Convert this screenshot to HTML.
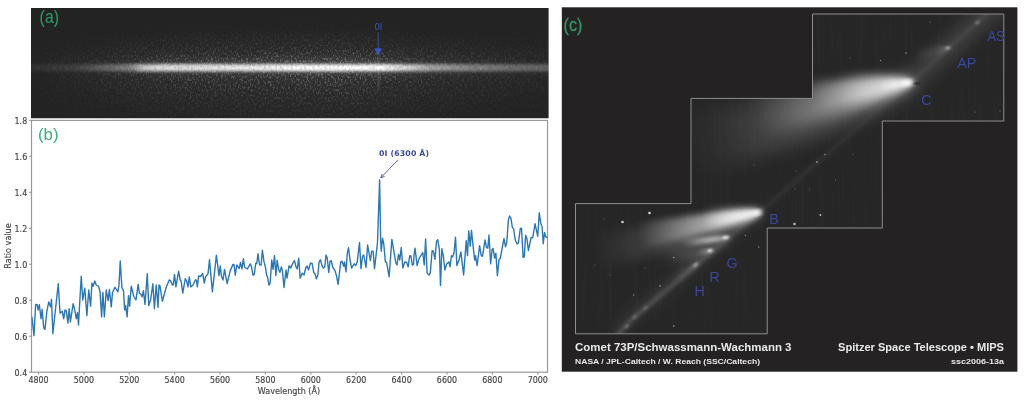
<!DOCTYPE html>
<html lang="en">
<head>
<meta charset="utf-8">
<title>Comet 73P/Schwassmann-Wachmann 3</title>
<style>
html,body{margin:0;padding:0;background:#fff}
body{width:1024px;height:400px;overflow:hidden}
svg{display:block}
.dj{font-family:"DejaVu Sans","Liberation Sans",sans-serif}
.lb{font-family:"Liberation Sans",sans-serif}
</style>
</head>
<body>
<svg width="1024" height="400" viewBox="0 0 1024 400">
<defs>
  <filter id="b05" x="-50%" y="-50%" width="200%" height="200%"><feGaussianBlur stdDeviation="0.7"/></filter>
  <filter id="b1" x="-50%" y="-50%" width="200%" height="200%"><feGaussianBlur stdDeviation="1"/></filter>
  <filter id="b2" x="-50%" y="-50%" width="200%" height="200%"><feGaussianBlur stdDeviation="2"/></filter>
  <filter id="b3" x="-50%" y="-50%" width="200%" height="200%"><feGaussianBlur stdDeviation="3.2"/></filter>
  <filter id="b6" x="-50%" y="-50%" width="200%" height="200%"><feGaussianBlur stdDeviation="6"/></filter>
  <filter id="b10" x="-50%" y="-50%" width="200%" height="200%"><feGaussianBlur stdDeviation="10"/></filter>
  <filter id="bandblur" x="-5%" y="-300%" width="110%" height="700%"><feGaussianBlur stdDeviation="2.5 1.35"/></filter>
  <filter id="halo" x="-5%" y="-300%" width="110%" height="700%"><feGaussianBlur stdDeviation="6 5"/></filter>
  <filter id="noiseA" x="0" y="0" width="100%" height="100%" color-interpolation-filters="sRGB">
    <feTurbulence type="fractalNoise" baseFrequency="0.6 0.38" numOctaves="2" seed="7" result="n"/>
    <feColorMatrix in="n" type="matrix" values="0 0 0 0 1  0 0 0 0 1  0 0 0 0 1  5 0 0 0 -2.5"/>
    <feGaussianBlur stdDeviation="0.75"/>
  </filter>
  <filter id="noiseD" x="0" y="0" width="100%" height="100%" color-interpolation-filters="sRGB">
    <feTurbulence type="fractalNoise" baseFrequency="0.45 0.3" numOctaves="2" seed="11" result="n"/>
    <feColorMatrix in="n" type="matrix" values="0 0 0 0 0.1  0 0 0 0 0.1  0 0 0 0 0.1  4 0 0 0 -1.8"/>
    <feGaussianBlur stdDeviation="0.6"/>
  </filter>
  <filter id="noiseC" x="0" y="0" width="100%" height="100%" color-interpolation-filters="sRGB">
    <feTurbulence type="fractalNoise" baseFrequency="0.5 0.012" numOctaves="2" seed="3" result="n"/>
    <feColorMatrix in="n" type="matrix" values="0 0 0 0 1  0 0 0 0 1  0 0 0 0 1  1.4 0 0 0 -0.55"/>
  </filter>
  <linearGradient id="maskAg" x1="0" y1="0" x2="0" y2="1">
    <stop offset="0" stop-color="#fff" stop-opacity="0.02"/>
    <stop offset="0.2" stop-color="#fff" stop-opacity="0.08"/>
    <stop offset="0.35" stop-color="#fff" stop-opacity="0.4"/>
    <stop offset="0.46" stop-color="#fff" stop-opacity="0.9"/>
    <stop offset="0.54" stop-color="#fff" stop-opacity="1"/>
    <stop offset="0.64" stop-color="#fff" stop-opacity="0.85"/>
    <stop offset="0.8" stop-color="#fff" stop-opacity="0.45"/>
    <stop offset="1" stop-color="#fff" stop-opacity="0.15"/>
  </linearGradient>
  <linearGradient id="maskAh" x1="0" y1="0" x2="1" y2="0">
    <stop offset="0" stop-color="#111"/>
    <stop offset="0.12" stop-color="#444"/>
    <stop offset="0.3" stop-color="#bbb"/>
    <stop offset="0.6" stop-color="#fff"/>
    <stop offset="0.75" stop-color="#888"/>
    <stop offset="1" stop-color="#333"/>
  </linearGradient>
  <mask id="maskAv" maskUnits="userSpaceOnUse" x="31" y="8" width="517" height="110">
    <rect x="31" y="8" width="517" height="110" fill="url(#maskAg)"/>
  </mask>
  <mask id="maskA" maskUnits="userSpaceOnUse" x="31" y="8" width="517" height="110">
    <rect x="31" y="8" width="517" height="110" fill="url(#maskAh)"/>
  </mask>
  <linearGradient id="bandg" gradientUnits="userSpaceOnUse" x1="31" y1="0" x2="548" y2="0">
    <stop offset="0" stop-color="#fff" stop-opacity="0.05"/>
    <stop offset="0.083" stop-color="#fff" stop-opacity="0.1"/>
    <stop offset="0.14" stop-color="#fff" stop-opacity="0.24"/>
    <stop offset="0.195" stop-color="#fff" stop-opacity="0.38"/>
    <stop offset="0.21" stop-color="#fff" stop-opacity="0.66"/>
    <stop offset="0.25" stop-color="#fff" stop-opacity="0.82"/>
    <stop offset="0.42" stop-color="#fff" stop-opacity="0.88"/>
    <stop offset="0.52" stop-color="#fff" stop-opacity="1"/>
    <stop offset="0.675" stop-color="#fff" stop-opacity="1"/>
    <stop offset="0.72" stop-color="#fff" stop-opacity="0.8"/>
    <stop offset="0.77" stop-color="#fff" stop-opacity="0.55"/>
    <stop offset="0.83" stop-color="#fff" stop-opacity="0.42"/>
    <stop offset="0.907" stop-color="#fff" stop-opacity="0.32"/>
    <stop offset="1" stop-color="#fff" stop-opacity="0.26"/>
  </linearGradient>
  <linearGradient id="trailg" gradientUnits="userSpaceOnUse" x1="612" y1="341" x2="1000" y2="2">
    <stop offset="0" stop-color="#fff" stop-opacity="0.26"/>
    <stop offset="0.25" stop-color="#fff" stop-opacity="0.18"/>
    <stop offset="0.4" stop-color="#fff" stop-opacity="0.09"/>
    <stop offset="0.72" stop-color="#fff" stop-opacity="0.05"/>
    <stop offset="0.8" stop-color="#fff" stop-opacity="0.1"/>
    <stop offset="1" stop-color="#fff" stop-opacity="0.12"/>
  </linearGradient>
  <linearGradient id="gC0" gradientUnits="userSpaceOnUse" x1="2" y1="0" x2="-238" y2="0"><stop offset="0" stop-color="#fff" stop-opacity="0.9"/><stop offset="0.25" stop-color="#fff" stop-opacity="0.8"/><stop offset="0.5" stop-color="#fff" stop-opacity="0.55"/><stop offset="0.7" stop-color="#fff" stop-opacity="0.3"/><stop offset="0.85" stop-color="#fff" stop-opacity="0.12"/><stop offset="1" stop-color="#fff" stop-opacity="0"/></linearGradient>
  <linearGradient id="gC1" gradientUnits="userSpaceOnUse" x1="2" y1="0" x2="-163" y2="0"><stop offset="0" stop-color="#fff" stop-opacity="1"/><stop offset="0.3" stop-color="#fff" stop-opacity="0.85"/><stop offset="0.55" stop-color="#fff" stop-opacity="0.5"/><stop offset="0.8" stop-color="#fff" stop-opacity="0.2"/><stop offset="1" stop-color="#fff" stop-opacity="0"/></linearGradient>
  <linearGradient id="gC2" gradientUnits="userSpaceOnUse" x1="2" y1="0" x2="-98" y2="0"><stop offset="0" stop-color="#fff" stop-opacity="1"/><stop offset="0.3" stop-color="#fff" stop-opacity="0.85"/><stop offset="0.6" stop-color="#fff" stop-opacity="0.5"/><stop offset="1" stop-color="#fff" stop-opacity="0"/></linearGradient>
  <linearGradient id="gC3" gradientUnits="userSpaceOnUse" x1="2" y1="0" x2="-73" y2="0"><stop offset="0" stop-color="#fff" stop-opacity="1"/><stop offset="0.5" stop-color="#fff" stop-opacity="0.7"/><stop offset="1" stop-color="#fff" stop-opacity="0"/></linearGradient>
  <linearGradient id="gC4" gradientUnits="userSpaceOnUse" x1="2" y1="0" x2="-33" y2="0"><stop offset="0" stop-color="#fff" stop-opacity="1"/><stop offset="0.5" stop-color="#fff" stop-opacity="0.7"/><stop offset="1" stop-color="#fff" stop-opacity="0"/></linearGradient>
  <linearGradient id="gB0" gradientUnits="userSpaceOnUse" x1="2" y1="0" x2="-173" y2="0"><stop offset="0" stop-color="#fff" stop-opacity="1"/><stop offset="0.3" stop-color="#fff" stop-opacity="0.8"/><stop offset="0.6" stop-color="#fff" stop-opacity="0.45"/><stop offset="1" stop-color="#fff" stop-opacity="0"/></linearGradient>
  <linearGradient id="gB1" gradientUnits="userSpaceOnUse" x1="2" y1="0" x2="-123" y2="0"><stop offset="0" stop-color="#fff" stop-opacity="1"/><stop offset="0.3" stop-color="#fff" stop-opacity="0.85"/><stop offset="0.6" stop-color="#fff" stop-opacity="0.5"/><stop offset="1" stop-color="#fff" stop-opacity="0"/></linearGradient>
  <linearGradient id="gB2" gradientUnits="userSpaceOnUse" x1="2" y1="0" x2="-58" y2="0"><stop offset="0" stop-color="#fff" stop-opacity="1"/><stop offset="0.5" stop-color="#fff" stop-opacity="0.7"/><stop offset="1" stop-color="#fff" stop-opacity="0"/></linearGradient>
  <linearGradient id="gB3" gradientUnits="userSpaceOnUse" x1="2" y1="0" x2="-58" y2="0"><stop offset="0" stop-color="#fff" stop-opacity="1"/><stop offset="0.4" stop-color="#fff" stop-opacity="0.7"/><stop offset="1" stop-color="#fff" stop-opacity="0"/></linearGradient>
  <linearGradient id="gG0" gradientUnits="userSpaceOnUse" x1="2" y1="0" x2="-78" y2="0"><stop offset="0" stop-color="#fff" stop-opacity="0.9"/><stop offset="0.4" stop-color="#fff" stop-opacity="0.5"/><stop offset="1" stop-color="#fff" stop-opacity="0"/></linearGradient>
  <linearGradient id="gG1" gradientUnits="userSpaceOnUse" x1="2" y1="0" x2="-46" y2="0"><stop offset="0" stop-color="#fff" stop-opacity="1"/><stop offset="0.4" stop-color="#fff" stop-opacity="0.8"/><stop offset="1" stop-color="#fff" stop-opacity="0"/></linearGradient>
  <linearGradient id="gR0" gradientUnits="userSpaceOnUse" x1="2" y1="0" x2="-48" y2="0"><stop offset="0" stop-color="#fff" stop-opacity="0.9"/><stop offset="0.4" stop-color="#fff" stop-opacity="0.5"/><stop offset="1" stop-color="#fff" stop-opacity="0"/></linearGradient>
  <linearGradient id="gR1" gradientUnits="userSpaceOnUse" x1="2" y1="0" x2="-14" y2="0"><stop offset="0" stop-color="#fff" stop-opacity="1"/><stop offset="0.4" stop-color="#fff" stop-opacity="0.8"/><stop offset="1" stop-color="#fff" stop-opacity="0"/></linearGradient>
  <linearGradient id="gH0" gradientUnits="userSpaceOnUse" x1="2" y1="0" x2="-34" y2="0"><stop offset="0" stop-color="#fff" stop-opacity="0.9"/><stop offset="0.4" stop-color="#fff" stop-opacity="0.5"/><stop offset="1" stop-color="#fff" stop-opacity="0"/></linearGradient>
  <linearGradient id="gH1" gradientUnits="userSpaceOnUse" x1="2" y1="0" x2="-10" y2="0"><stop offset="0" stop-color="#fff" stop-opacity="1"/><stop offset="0.4" stop-color="#fff" stop-opacity="0.8"/><stop offset="1" stop-color="#fff" stop-opacity="0"/></linearGradient>
  <linearGradient id="gAP0" gradientUnits="userSpaceOnUse" x1="2" y1="0" x2="-38" y2="0"><stop offset="0" stop-color="#fff" stop-opacity="0.9"/><stop offset="0.4" stop-color="#fff" stop-opacity="0.5"/><stop offset="1" stop-color="#fff" stop-opacity="0"/></linearGradient>
  <linearGradient id="gAP1" gradientUnits="userSpaceOnUse" x1="2" y1="0" x2="-12" y2="0"><stop offset="0" stop-color="#fff" stop-opacity="1"/><stop offset="0.4" stop-color="#fff" stop-opacity="0.8"/><stop offset="1" stop-color="#fff" stop-opacity="0"/></linearGradient>
  
  <clipPath id="clipC"><polygon points="812.5,14 1003.8,14 1003.8,121 882.3,121 882.3,228 767.2,228 767.2,333.8 575.5,333.8 575.5,203.6 691,203.6 691,98.4 812.5,98.4"/></clipPath>
  <clipPath id="clipPlot"><rect x="31.5" y="120.4" width="516" height="251.8"/></clipPath>
  <clipPath id="clipA"><rect x="31" y="8" width="517.6" height="110.2"/></clipPath>
</defs>

<rect x="0" y="0" width="1024" height="400" fill="#fff"/>

<!-- panel (a): 2D spectrum -->
<g clip-path="url(#clipA)">
  <rect x="31" y="8" width="518" height="111" fill="#242323"/>
  <g mask="url(#maskA)">
    <rect x="31" y="8" width="517" height="110" fill="url(#maskAg)" opacity="0.07"/>
    <g mask="url(#maskAv)" opacity="0.27"><rect x="31" y="8" width="517" height="110" filter="url(#noiseA)"/></g>
  </g>
  <rect x="20" y="62.5" width="540" height="10" fill="url(#bandg)" opacity="0.16" filter="url(#halo)"/>
  <rect x="20" y="64.2" width="540" height="7" fill="url(#bandg)" filter="url(#bandblur)"/>
  <g opacity="0.13"><rect x="31" y="61" width="518" height="14" filter="url(#noiseD)"/></g>
  <rect x="377.6" y="56" width="1" height="34" fill="#fff" opacity="0.3" filter="url(#b1)"/>
</g>
<text class="lb" x="39.6" y="23.3" font-size="17.5" fill="#2f9a68" textLength="19.4" lengthAdjust="spacingAndGlyphs">(a)</text>
<g fill="#3b55b8" stroke="none">
  <text class="dj" x="378.4" y="29.6" font-size="8.6" text-anchor="middle" fill="#3b55b8">0I</text>
  <rect x="377.7" y="32.5" width="0.9" height="17" opacity="0.9"/>
  <polygon points="374.3,48.2 382,48.2 378.1,56"/>
</g>

<!-- panel (b): ratio plot -->
<g fill="none" stroke="#989898" stroke-width="1.2">
  <rect x="31.5" y="120.4" width="516" height="251.8"/>
  <line x1="38.5" y1="372.2" x2="38.5" y2="374.5"/><line x1="83.89" y1="372.2" x2="83.89" y2="374.5"/><line x1="129.27" y1="372.2" x2="129.27" y2="374.5"/><line x1="174.66" y1="372.2" x2="174.66" y2="374.5"/><line x1="220.04" y1="372.2" x2="220.04" y2="374.5"/><line x1="265.43" y1="372.2" x2="265.43" y2="374.5"/><line x1="310.82" y1="372.2" x2="310.82" y2="374.5"/><line x1="356.2" y1="372.2" x2="356.2" y2="374.5"/><line x1="401.59" y1="372.2" x2="401.59" y2="374.5"/><line x1="446.97" y1="372.2" x2="446.97" y2="374.5"/><line x1="492.36" y1="372.2" x2="492.36" y2="374.5"/><line x1="537.75" y1="372.2" x2="537.75" y2="374.5"/><line x1="29.2" y1="372.2" x2="31.5" y2="372.2"/><line x1="29.2" y1="336.23" x2="31.5" y2="336.23"/><line x1="29.2" y1="300.26" x2="31.5" y2="300.26"/><line x1="29.2" y1="264.29" x2="31.5" y2="264.29"/><line x1="29.2" y1="228.31" x2="31.5" y2="228.31"/><line x1="29.2" y1="192.34" x2="31.5" y2="192.34"/><line x1="29.2" y1="156.37" x2="31.5" y2="156.37"/><line x1="29.2" y1="120.4" x2="31.5" y2="120.4"/>
</g>
<g class="dj" font-size="7.8" fill="#454545" stroke="#454545" stroke-width="0.15" text-anchor="middle" transform="scale(1.02 1.14)"><text x="37.75" y="336.23">4800</text><text x="82.24" y="336.23">5000</text><text x="126.74" y="336.23">5200</text><text x="171.23" y="336.23">5400</text><text x="215.73" y="336.23">5600</text><text x="260.23" y="336.23">5800</text><text x="304.72" y="336.23">6000</text><text x="349.22" y="336.23">6200</text><text x="393.71" y="336.23">6400</text><text x="438.21" y="336.23">6600</text><text x="482.71" y="336.23">6800</text><text x="527.2" y="336.23">7000</text></g>
<g class="dj" font-size="8.1" fill="#454545" stroke="#454545" stroke-width="0.15" text-anchor="middle">
  <text transform="translate(289 393.7) scale(1 1.1)">Wavelength (Å)</text>
  <text transform="translate(11.2 246) rotate(-90) scale(1 1.08)">Ratio value</text>
</g>
<g class="dj" font-size="7.8" fill="#454545" stroke="#454545" stroke-width="0.15" text-anchor="end" transform="scale(1.02 1.14)"><text x="26.67" y="329.91">0.4</text><text x="26.67" y="298.36">0.6</text><text x="26.67" y="266.8">0.8</text><text x="26.67" y="235.25">1.0</text><text x="26.67" y="203.7">1.2</text><text x="26.67" y="172.14">1.4</text><text x="26.67" y="140.59">1.6</text><text x="26.67" y="109.04">1.8</text></g>
<g clip-path="url(#clipPlot)">
  <polyline points="31.88,316.88 34,335.62 35.62,304.38 37.25,304.75 38.12,310 39.38,304.75 41,318.75 42.12,309.38 43.75,328.12 45,329.38 46.88,311.25 48.75,301.88 50.62,306.88 51.5,299.38 52.88,333.75 55,313.75 58.25,283.75 60,313.12 62.25,311.25 63.75,318.75 65,310 66.25,310.62 67.88,323.12 69.12,308.75 70.38,321.88 73.12,303.75 74.75,310 76.25,318.75 77.5,312.5 78.5,325 80,297.5 81.25,276.25 82.75,300 84.75,288.12 86.88,315.62 88.75,290 90.62,306.25 91.88,283.12 93.12,286.25 94.75,281 96.25,285 98.5,286.25 100,291.25 101.62,316.88 102.88,292.5 104.38,316.88 106.25,290 108.12,300.62 109.38,289.38 111.25,306.88 112.5,292.5 115,287.25 117.88,291.88 119,285 120.25,261 121.88,287.5 123.5,290.62 124.62,310 125.62,305.62 127.12,316.88 128.5,295.62 129.62,306.25 131.25,286.25 133.75,296.25 136,300 138.12,284.38 139.38,293.12 140.62,293.75 142.12,296.88 143.38,290.62 145,304.38 147.25,273.75 148.75,305.62 150.62,300 152.88,283.75 154.38,308.75 156.25,285 158,307.5 159,285 159.88,285.62 162.38,301.25 166.12,287.5 169.25,280 170.5,280.62 172.38,285 173.25,284.75 174.5,274.38 175.88,286.88 178.62,271.25 180.25,280 181.12,281 182.75,293.12 185.25,278.75 186.5,280.62 188,286.88 189.25,276.88 190.75,286.88 193,285 195.5,279.75 196.5,280.62 197.38,286.88 198.62,276 200.5,276.5 202.75,273.5 204.25,283.12 205.5,276.88 208,273.75 209.5,259.75 212.38,291.88 216.38,255.25 219,275.62 220.25,266 221.5,276.25 223,280 224.5,269.38 227.12,283.5 230.25,270.62 233,264.38 234,264.38 235.25,275.25 236.75,265 239.25,268.5 240.5,262.5 242,268.75 243.38,258.75 244.62,267.25 247.38,269 250.25,263.75 251.5,266.88 253,275.25 254.25,274.38 255.75,263.12 256.75,263.5 258,253.75 259.5,264.75 261.12,265 262.38,250.25 264,261.88 265.25,266.25 266.75,275.62 267.62,277.25 268.88,285 270.12,283.12 271.75,260 273,269.38 274.5,255.62 275.88,275.62 277.12,260.25 278.62,269.38 279.88,272.25 281.38,266.88 282.38,270.62 284,287.5 286,270 287,278.12 289.12,265.62 290.62,268.12 292.88,263.12 294.5,260.62 296,266.88 297.25,268.75 298.75,258.12 300.12,278.12 302.25,273.12 304.12,275 305.75,267.75 307,266 308.5,270 310.38,263.12 312,263.12 313.75,272.5 315,273.75 316.38,278.75 317.88,275 319.12,261.88 320.38,259.75 322.25,266.25 323.5,268.12 324.75,266.88 326,255 327.25,258.12 328.75,272.5 330,261.25 331.25,260.62 332.88,267.5 335,270.62 336.62,276.25 338.12,284.38 340.75,261.88 342,261.25 343.75,266.25 344.5,261.88 346,271.88 347.25,253.75 348.5,247.75 350,260 351.62,268.12 354.12,263.75 355.62,265.62 357.25,261.88 359.5,242.5 361,268.75 362.5,256.25 363.75,255 366,267.5 367.62,245 370.38,260.62 371.62,251.25 373.12,251.25 374.5,268.75 377.5,242.5 379.62,180 380.62,240 381.25,251.25 382.5,238.12 383.75,243.75 385.38,261.88 386.62,262.5 389.12,276.88 391.88,239.38 393.5,248.75 395.75,262.5 397,265 398.5,254.38 399.75,260 401.25,247.5 402.88,268.12 404.75,261.88 406.62,262.5 408.12,266.88 409.75,255.62 411,256.25 412.25,265 413.5,264.38 414,255 415,248.12 417.12,265.62 419,258.75 422.75,252.5 424.25,265 425.62,239 427.12,273.12 429,275 430.25,273.12 432.12,250.62 433.38,251.25 435,259.38 436.5,241.25 437.75,239.75 439.38,249.38 440.5,285.62 441.88,248.75 443.38,256.25 444.88,270 446.75,263.75 449,261.88 450,266.88 451.5,255.62 452.75,256.88 454,252.5 455.5,237.25 456.88,265.62 459,260 460.88,251.88 463.62,275 466.25,240.62 467.5,255.62 468.75,230.88 470.25,246.25 471.5,230.38 473,245 474.62,260 475.5,255.62 477.12,265.62 479.62,245.62 481.25,255.62 482.5,256.25 485,240 486.5,247.5 487.75,248.12 489,235 490.62,263.75 492.12,249.38 493.12,248.5 494.62,258.12 495.88,253.12 497.38,275.62 499,259.38 500.25,258.5 504,238.5 505.5,246.88 506.75,242.5 508.38,220 509.62,216 510.88,218.12 512.38,227.5 513.62,228.75 515.25,240 517.12,244 518.38,243.12 520.25,228.75 521.5,228.12 523.12,257.5 524.25,256.88 525.62,235.25 526.88,238.5 528.38,250.62 531.12,237.5 532.75,237.75 535,223.75 537.75,236.25 539.25,212.75 540.88,223.75 542,226.25 543.25,243.75 544.5,232.5 545.75,236.9 547.5,237.5" fill="none" stroke="#2c77b2" stroke-width="1.4" stroke-linejoin="round" stroke-linecap="round"/>
</g>
<text class="lb" x="38" y="140.2" font-size="17" fill="#3fae78" textLength="20.6" lengthAdjust="spacingAndGlyphs">(b)</text>
<text class="dj" x="379" y="156.2" font-size="7.8" font-weight="bold" fill="#3c4c9c" letter-spacing="0.15">0I (6300 Å)</text>
<g stroke="#504e9f" stroke-width="0.9" fill="none">
  <line x1="397.8" y1="160" x2="381" y2="177.6"/>
  <polyline points="384.6,176.4 380.8,177.9 382.2,174"/>
</g>

<!-- panel (c): Spitzer image -->
<rect x="561.8" y="7.3" width="455.6" height="364.4" fill="#242222"/>
<g clip-path="url(#clipC)">
  <rect x="562" y="7" width="456" height="365" fill="#262626"/>
  <g opacity="0.028"><rect x="575" y="14" width="430" height="320" filter="url(#noiseC)"/></g>
  <!-- dust trail -->
  <polyline points="1012,-9 911.5,81.5 759.5,212.3 697,264.5 634,317.5 616,336" fill="none" stroke="url(#trailg)" stroke-width="3" stroke-linejoin="round" filter="url(#b2)"/>
  <line x1="905" y1="86" x2="1008" y2="-4" stroke="#fff" stroke-opacity="0.09" stroke-width="24" filter="url(#b6)"/>
  <polyline points="759.5,210 697,262 634,315 616,334" fill="none" stroke="#fff" stroke-opacity="0.07" stroke-width="11" filter="url(#b6)"/>
  <!-- comets -->
  <g transform="translate(910.8 82.3)"><path transform="rotate(-14.5)" d="M2,-0 L1.58,-1.03 L0.33,-2.07 L-1.75,-3.1 L-4.67,-4.13 L-8.42,-5.16 L-13,-6.2 L-18.42,-7.23 L-24.67,-8.26 L-31.75,-9.3 L-39.67,-10.33 L-48.42,-11.36 L-58,-12.39 L-68.42,-13.43 L-79.67,-14.46 L-91.75,-15.49 L-104.67,-16.52 L-118.42,-17.56 L-133,-18.59 L-148.42,-19.62 L-164.67,-20.66 L-181.75,-21.69 L-199.67,-22.72 L-218.42,-23.75 L-238,-24.79 L-238,40.28 L-218.42,38.6 L-199.67,36.92 L-181.75,35.24 L-164.67,33.57 L-148.42,31.89 L-133,30.21 L-118.42,28.53 L-104.67,26.85 L-91.75,25.17 L-79.67,23.5 L-68.42,21.82 L-58,20.14 L-48.42,18.46 L-39.67,16.78 L-31.75,15.1 L-24.67,13.43 L-18.42,11.75 L-13,10.07 L-8.42,8.39 L-4.67,6.71 L-1.75,5.03 L0.33,3.36 L1.58,1.68 L2,0Z" fill="url(#gC0)" opacity="0.36" filter="url(#b10)"/><path transform="rotate(-10.5)" d="M2,-0 L1.71,-0.86 L0.85,-1.71 L-0.58,-2.57 L-2.58,-3.43 L-5.16,-4.28 L-8.31,-5.14 L-12.04,-5.99 L-16.33,-6.85 L-21.2,-7.71 L-26.65,-8.56 L-32.66,-9.42 L-39.25,-10.28 L-46.41,-11.13 L-54.15,-11.99 L-62.45,-12.85 L-71.33,-13.7 L-80.79,-14.56 L-90.81,-15.41 L-101.41,-16.27 L-112.58,-17.13 L-124.33,-17.98 L-136.65,-18.84 L-149.54,-19.7 L-163,-20.55 L-163,25.69 L-149.54,24.62 L-136.65,23.55 L-124.33,22.48 L-112.58,21.41 L-101.41,20.34 L-90.81,19.27 L-80.79,18.2 L-71.33,17.13 L-62.45,16.06 L-54.15,14.99 L-46.41,13.92 L-39.25,12.85 L-32.66,11.77 L-26.65,10.7 L-21.2,9.63 L-16.33,8.56 L-12.04,7.49 L-8.31,6.42 L-5.16,5.35 L-2.58,4.28 L-0.58,3.21 L0.85,2.14 L1.71,1.07 L2,0Z" fill="url(#gC1)" opacity="0.5" filter="url(#b6)"/><path transform="rotate(-7.5)" d="M2,-0 L1.83,-0.54 L1.31,-1.08 L0.44,-1.62 L-0.78,-2.17 L-2.34,-2.71 L-4.25,-3.25 L-6.51,-3.79 L-9.11,-4.33 L-12.06,-4.88 L-15.36,-5.42 L-19.01,-5.96 L-23,-6.5 L-27.34,-7.04 L-32.03,-7.58 L-37.06,-8.12 L-42.44,-8.67 L-48.17,-9.21 L-54.25,-9.75 L-60.67,-10.29 L-67.44,-10.83 L-74.56,-11.38 L-82.03,-11.92 L-89.84,-12.46 L-98,-13 L-98,14 L-89.84,13.42 L-82.03,12.83 L-74.56,12.25 L-67.44,11.67 L-60.67,11.08 L-54.25,10.5 L-48.17,9.92 L-42.44,9.33 L-37.06,8.75 L-32.03,8.17 L-27.34,7.58 L-23,7 L-19.01,6.42 L-15.36,5.83 L-12.06,5.25 L-9.11,4.67 L-6.51,4.08 L-4.25,3.5 L-2.34,2.92 L-0.78,2.33 L0.44,1.75 L1.31,1.17 L1.83,0.58 L2,0Z" fill="url(#gC2)" opacity="0.55" filter="url(#b3)"/><path transform="rotate(-8)" d="M2,-0 L1.87,-0.83 L1.48,-1.66 L0.83,-2.49 L-0.08,-3.32 L-1.26,-4.15 L-2.69,-4.98 L-4.38,-5.81 L-6.33,-6.64 L-8.55,-7.47 L-11.02,-8.3 L-13.76,-9.13 L-16.75,-9.96 L-20.01,-10.79 L-23.52,-11.62 L-27.3,-12.45 L-31.33,-13.28 L-35.63,-14.11 L-40.19,-14.94 L-45.01,-15.77 L-50.08,-16.6 L-55.42,-17.43 L-61.02,-18.26 L-66.88,-19.09 L-73,-19.92 L-73,19.92 L-66.88,19.09 L-61.02,18.26 L-55.42,17.43 L-50.08,16.6 L-45.01,15.77 L-40.19,14.94 L-35.63,14.11 L-31.33,13.28 L-27.3,12.45 L-23.52,11.62 L-20.01,10.79 L-16.75,9.96 L-13.76,9.13 L-11.02,8.3 L-8.55,7.47 L-6.33,6.64 L-4.38,5.81 L-2.69,4.98 L-1.26,4.15 L-0.08,3.32 L0.83,2.49 L1.48,1.66 L1.87,0.83 L2,0Z" fill="url(#gC3)" opacity="0.3" filter="url(#b3)"/><path transform="rotate(-7)" d="M2,-0 L1.94,-0.22 L1.76,-0.44 L1.45,-0.67 L1.03,-0.89 L0.48,-1.11 L-0.19,-1.33 L-0.98,-1.55 L-1.89,-1.77 L-2.92,-2 L-4.08,-2.22 L-5.35,-2.44 L-6.75,-2.66 L-8.27,-2.88 L-9.91,-3.11 L-11.67,-3.33 L-13.56,-3.55 L-15.56,-3.77 L-17.69,-3.99 L-19.94,-4.22 L-22.31,-4.44 L-24.8,-4.66 L-27.41,-4.88 L-30.14,-5.1 L-33,-5.32 L-33,5.32 L-30.14,5.1 L-27.41,4.88 L-24.8,4.66 L-22.31,4.44 L-19.94,4.22 L-17.69,3.99 L-15.56,3.77 L-13.56,3.55 L-11.67,3.33 L-9.91,3.11 L-8.27,2.88 L-6.75,2.66 L-5.35,2.44 L-4.08,2.22 L-2.92,2 L-1.89,1.77 L-0.98,1.55 L-0.19,1.33 L0.48,1.11 L1.03,0.89 L1.45,0.67 L1.76,0.44 L1.94,0.22 L2,0Z" fill="url(#gC4)" opacity="0.85" filter="url(#b2)"/><ellipse transform="rotate(-7)" cx="-3.5" cy="0" rx="5" ry="2.4" fill="#fff" fill-opacity="1" filter="url(#b2)"/></g>
  <g transform="translate(759.4 212.2)"><path transform="rotate(-12.5)" d="M2,-0 L1.7,-0.55 L0.78,-1.1 L-0.73,-1.65 L-2.86,-2.2 L-5.6,-2.76 L-8.94,-3.31 L-12.89,-3.86 L-17.44,-4.41 L-22.61,-4.96 L-28.38,-5.51 L-34.76,-6.06 L-41.75,-6.61 L-49.35,-7.17 L-57.55,-7.72 L-66.36,-8.27 L-75.78,-8.82 L-85.8,-9.37 L-96.44,-9.92 L-107.68,-10.47 L-119.53,-11.02 L-131.98,-11.58 L-145.05,-12.13 L-158.72,-12.68 L-173,-13.23 L-173,22.49 L-158.72,21.55 L-145.05,20.61 L-131.98,19.68 L-119.53,18.74 L-107.68,17.8 L-96.44,16.87 L-85.8,15.93 L-75.78,14.99 L-66.36,14.06 L-57.55,13.12 L-49.35,12.18 L-41.75,11.24 L-34.76,10.31 L-28.38,9.37 L-22.61,8.43 L-17.44,7.5 L-12.89,6.56 L-8.94,5.62 L-5.6,4.69 L-2.86,3.75 L-0.73,2.81 L0.78,1.87 L1.7,0.94 L2,0Z" fill="url(#gB0)" opacity="0.3" filter="url(#b6)"/><path transform="rotate(-10)" d="M2,-0 L1.78,-0.47 L1.13,-0.93 L0.05,-1.4 L-1.47,-1.86 L-3.43,-2.33 L-5.81,-2.8 L-8.63,-3.26 L-11.89,-3.73 L-15.58,-4.19 L-19.7,-4.66 L-24.26,-5.12 L-29.25,-5.59 L-34.68,-6.06 L-40.53,-6.52 L-46.83,-6.99 L-53.56,-7.45 L-60.72,-7.92 L-68.31,-8.39 L-76.34,-8.85 L-84.81,-9.32 L-93.7,-9.78 L-103.03,-10.25 L-112.8,-10.71 L-123,-11.18 L-123,15.09 L-112.8,14.46 L-103.03,13.84 L-93.7,13.21 L-84.81,12.58 L-76.34,11.95 L-68.31,11.32 L-60.72,10.69 L-53.56,10.06 L-46.83,9.43 L-40.53,8.8 L-34.68,8.18 L-29.25,7.55 L-24.26,6.92 L-19.7,6.29 L-15.58,5.66 L-11.89,5.03 L-8.63,4.4 L-5.81,3.77 L-3.43,3.14 L-1.47,2.52 L0.05,1.89 L1.13,1.26 L1.78,0.63 L2,0Z" fill="url(#gB1)" opacity="0.72" filter="url(#b3)"/><path transform="rotate(-9)" d="M2,-0 L1.9,-0.61 L1.58,-1.23 L1.06,-1.84 L0.33,-2.45 L-0.6,-3.07 L-1.75,-3.68 L-3.1,-4.29 L-4.67,-4.91 L-6.44,-5.52 L-8.42,-6.13 L-10.6,-6.75 L-13,-7.36 L-15.6,-7.97 L-18.42,-8.59 L-21.44,-9.2 L-24.67,-9.81 L-28.1,-10.42 L-31.75,-11.04 L-35.6,-11.65 L-39.67,-12.26 L-43.94,-12.88 L-48.42,-13.49 L-53.1,-14.1 L-58,-14.72 L-58,15.49 L-53.1,14.85 L-48.42,14.2 L-43.94,13.56 L-39.67,12.91 L-35.6,12.26 L-31.75,11.62 L-28.1,10.97 L-24.67,10.33 L-21.44,9.68 L-18.42,9.04 L-15.6,8.39 L-13,7.75 L-10.6,7.1 L-8.42,6.45 L-6.44,5.81 L-4.67,5.16 L-3.1,4.52 L-1.75,3.87 L-0.6,3.23 L0.33,2.58 L1.06,1.94 L1.58,1.29 L1.9,0.65 L2,0Z" fill="url(#gB2)" opacity="0.35" filter="url(#b3)"/><path transform="rotate(-8.5)" d="M2,-0 L1.9,-0.29 L1.58,-0.58 L1.06,-0.87 L0.33,-1.16 L-0.6,-1.45 L-1.75,-1.74 L-3.1,-2.03 L-4.67,-2.32 L-6.44,-2.61 L-8.42,-2.9 L-10.6,-3.2 L-13,-3.49 L-15.6,-3.78 L-18.42,-4.07 L-21.44,-4.36 L-24.67,-4.65 L-28.1,-4.94 L-31.75,-5.23 L-35.6,-5.52 L-39.67,-5.81 L-43.94,-6.1 L-48.42,-6.39 L-53.1,-6.68 L-58,-6.97 L-58,7.75 L-53.1,7.42 L-48.42,7.1 L-43.94,6.78 L-39.67,6.45 L-35.6,6.13 L-31.75,5.81 L-28.1,5.49 L-24.67,5.16 L-21.44,4.84 L-18.42,4.52 L-15.6,4.2 L-13,3.87 L-10.6,3.55 L-8.42,3.23 L-6.44,2.9 L-4.67,2.58 L-3.1,2.26 L-1.75,1.94 L-0.6,1.61 L0.33,1.29 L1.06,0.97 L1.58,0.65 L1.9,0.32 L2,0Z" fill="url(#gB3)" opacity="0.85" filter="url(#b2)"/><ellipse transform="rotate(-8)" cx="-3" cy="0" rx="4.5" ry="2" fill="#fff" fill-opacity="1" filter="url(#b2)"/></g>
  <g transform="translate(728.2 237.2)"><path transform="rotate(-10)" d="M2,-0 L1.86,-0.3 L1.44,-0.6 L0.75,-0.89 L-0.22,-1.19 L-1.47,-1.49 L-3,-1.79 L-4.81,-2.09 L-6.89,-2.39 L-9.25,-2.68 L-11.89,-2.98 L-14.81,-3.28 L-18,-3.58 L-21.47,-3.88 L-25.22,-4.17 L-29.25,-4.47 L-33.56,-4.77 L-38.14,-5.07 L-43,-5.37 L-48.14,-5.66 L-53.56,-5.96 L-59.25,-6.26 L-65.22,-6.56 L-71.47,-6.86 L-78,-7.16 L-78,15.21 L-71.47,14.57 L-65.22,13.94 L-59.25,13.3 L-53.56,12.67 L-48.14,12.04 L-43,11.4 L-38.14,10.77 L-33.56,10.14 L-29.25,9.5 L-25.22,8.87 L-21.47,8.24 L-18,7.6 L-14.81,6.97 L-11.89,6.34 L-9.25,5.7 L-6.89,5.07 L-4.81,4.43 L-3,3.8 L-1.47,3.17 L-0.22,2.53 L0.75,1.9 L1.44,1.27 L1.86,0.63 L2,0Z" fill="url(#gG0)" opacity="0.3" filter="url(#b6)"/><path transform="rotate(-7)" d="M2,-0 L1.92,-0.13 L1.67,-0.26 L1.25,-0.39 L0.67,-0.52 L-0.08,-0.65 L-1,-0.78 L-2.08,-0.91 L-3.33,-1.04 L-4.75,-1.17 L-6.33,-1.3 L-8.08,-1.43 L-10,-1.56 L-12.08,-1.69 L-14.33,-1.82 L-16.75,-1.95 L-19.33,-2.08 L-22.08,-2.21 L-25,-2.34 L-28.08,-2.47 L-31.33,-2.6 L-34.75,-2.73 L-38.33,-2.86 L-42.08,-2.99 L-46,-3.12 L-46,4.16 L-42.08,3.98 L-38.33,3.81 L-34.75,3.64 L-31.33,3.46 L-28.08,3.29 L-25,3.12 L-22.08,2.94 L-19.33,2.77 L-16.75,2.6 L-14.33,2.42 L-12.08,2.25 L-10,2.08 L-8.08,1.91 L-6.33,1.73 L-4.75,1.56 L-3.33,1.39 L-2.08,1.21 L-1,1.04 L-0.08,0.87 L0.67,0.69 L1.25,0.52 L1.67,0.35 L1.92,0.17 L2,0Z" fill="url(#gG1)" opacity="0.9" filter="url(#b2)"/><ellipse transform="rotate(-7)" cx="-2.5" cy="0" rx="3.2" ry="1.2" fill="#fff" fill-opacity="1" filter="url(#b1)"/></g>
  <g transform="translate(712 250.4)"><path transform="rotate(-9)" d="M2,-0 L1.91,-0.21 L1.65,-0.41 L1.22,-0.62 L0.61,-0.82 L-0.17,-1.03 L-1.12,-1.24 L-2.25,-1.44 L-3.56,-1.65 L-5.03,-1.86 L-6.68,-2.06 L-8.5,-2.27 L-10.5,-2.47 L-12.67,-2.68 L-15.01,-2.89 L-17.53,-3.09 L-20.22,-3.3 L-23.09,-3.51 L-26.12,-3.71 L-29.34,-3.92 L-32.72,-4.12 L-36.28,-4.33 L-40.01,-4.54 L-43.92,-4.74 L-48,-4.95 L-48,9.9 L-43.92,9.49 L-40.01,9.07 L-36.28,8.66 L-32.72,8.25 L-29.34,7.84 L-26.12,7.42 L-23.09,7.01 L-20.22,6.6 L-17.53,6.19 L-15.01,5.77 L-12.67,5.36 L-10.5,4.95 L-8.5,4.54 L-6.68,4.12 L-5.03,3.71 L-3.56,3.3 L-2.25,2.89 L-1.12,2.47 L-0.17,2.06 L0.61,1.65 L1.22,1.24 L1.65,0.82 L1.91,0.41 L2,0Z" fill="url(#gR0)" opacity="0.25" filter="url(#b3)"/><path transform="rotate(-8)" d="M2,-0 L1.97,-0.07 L1.89,-0.13 L1.75,-0.2 L1.56,-0.27 L1.31,-0.33 L1,-0.4 L0.64,-0.47 L0.22,-0.53 L-0.25,-0.6 L-0.78,-0.67 L-1.36,-0.73 L-2,-0.8 L-2.69,-0.87 L-3.44,-0.93 L-4.25,-1 L-5.11,-1.07 L-6.03,-1.13 L-7,-1.2 L-8.03,-1.27 L-9.11,-1.33 L-10.25,-1.4 L-11.44,-1.47 L-12.69,-1.53 L-14,-1.6 L-14,2 L-12.69,1.92 L-11.44,1.83 L-10.25,1.75 L-9.11,1.67 L-8.03,1.58 L-7,1.5 L-6.03,1.42 L-5.11,1.33 L-4.25,1.25 L-3.44,1.17 L-2.69,1.08 L-2,1 L-1.36,0.92 L-0.78,0.83 L-0.25,0.75 L0.22,0.67 L0.64,0.58 L1,0.5 L1.31,0.42 L1.56,0.33 L1.75,0.25 L1.89,0.17 L1.97,0.08 L2,0Z" fill="url(#gR1)" opacity="0.8" filter="url(#b2)"/><ellipse transform="rotate(-8)" cx="-2" cy="0" rx="2.6" ry="1.2" fill="#fff" fill-opacity="1" filter="url(#b1)"/></g>
  <g transform="translate(697.3 263.6)"><path transform="rotate(-30)" d="M2,-0 L1.94,-0.17 L1.75,-0.35 L1.44,-0.52 L1,-0.7 L0.44,-0.88 L-0.25,-1.05 L-1.06,-1.23 L-2,-1.4 L-3.06,-1.57 L-4.25,-1.75 L-5.56,-1.92 L-7,-2.1 L-8.56,-2.27 L-10.25,-2.45 L-12.06,-2.62 L-14,-2.8 L-16.06,-2.97 L-18.25,-3.15 L-20.56,-3.32 L-23,-3.5 L-25.56,-3.67 L-28.25,-3.85 L-31.06,-4.03 L-34,-4.2 L-34,7.2 L-31.06,6.9 L-28.25,6.6 L-25.56,6.3 L-23,6 L-20.56,5.7 L-18.25,5.4 L-16.06,5.1 L-14,4.8 L-12.06,4.5 L-10.25,4.2 L-8.56,3.9 L-7,3.6 L-5.56,3.3 L-4.25,3 L-3.06,2.7 L-2,2.4 L-1.06,2.1 L-0.25,1.8 L0.44,1.5 L1,1.2 L1.44,0.9 L1.75,0.6 L1.94,0.3 L2,0Z" fill="url(#gH0)" opacity="0.2" filter="url(#b3)"/><path transform="rotate(-35)" d="M2,-0 L1.98,-0.06 L1.92,-0.12 L1.81,-0.17 L1.67,-0.23 L1.48,-0.29 L1.25,-0.35 L0.98,-0.4 L0.67,-0.46 L0.31,-0.52 L-0.08,-0.58 L-0.52,-0.64 L-1,-0.69 L-1.52,-0.75 L-2.08,-0.81 L-2.69,-0.87 L-3.33,-0.92 L-4.02,-0.98 L-4.75,-1.04 L-5.52,-1.1 L-6.33,-1.15 L-7.19,-1.21 L-8.08,-1.27 L-9.02,-1.33 L-10,-1.39 L-10,1.73 L-9.02,1.66 L-8.08,1.59 L-7.19,1.52 L-6.33,1.44 L-5.52,1.37 L-4.75,1.3 L-4.02,1.23 L-3.33,1.15 L-2.69,1.08 L-2.08,1.01 L-1.52,0.94 L-1,0.87 L-0.52,0.79 L-0.08,0.72 L0.31,0.65 L0.67,0.58 L0.98,0.51 L1.25,0.43 L1.48,0.36 L1.67,0.29 L1.81,0.22 L1.92,0.14 L1.98,0.07 L2,0Z" fill="url(#gH1)" opacity="0.5" filter="url(#b2)"/><ellipse transform="rotate(-38)" cx="-2" cy="0" rx="3" ry="1.1" fill="#fff" fill-opacity="0.6" filter="url(#b1)"/></g>
  <g transform="translate(949.3 47.6)"><path transform="rotate(-12)" d="M2,-0 L1.93,-0.18 L1.72,-0.37 L1.38,-0.55 L0.89,-0.74 L0.26,-0.92 L-0.5,-1.11 L-1.4,-1.29 L-2.44,-1.48 L-3.62,-1.66 L-4.94,-1.84 L-6.4,-2.03 L-8,-2.21 L-9.74,-2.4 L-11.61,-2.58 L-13.62,-2.77 L-15.78,-2.95 L-18.07,-3.14 L-20.5,-3.32 L-23.07,-3.5 L-25.78,-3.69 L-28.62,-3.87 L-31.61,-4.06 L-34.74,-4.24 L-38,-4.43 L-38,7.59 L-34.74,7.27 L-31.61,6.96 L-28.62,6.64 L-25.78,6.32 L-23.07,6.01 L-20.5,5.69 L-18.07,5.38 L-15.78,5.06 L-13.62,4.74 L-11.61,4.43 L-9.74,4.11 L-8,3.79 L-6.4,3.48 L-4.94,3.16 L-3.62,2.85 L-2.44,2.53 L-1.4,2.21 L-0.5,1.9 L0.26,1.58 L0.89,1.26 L1.38,0.95 L1.72,0.63 L1.93,0.32 L2,0Z" fill="url(#gAP0)" opacity="0.2" filter="url(#b3)"/><path transform="rotate(-10)" d="M2,-0 L1.98,-0.05 L1.9,-0.11 L1.78,-0.16 L1.61,-0.22 L1.39,-0.27 L1.12,-0.33 L0.81,-0.38 L0.44,-0.44 L0.03,-0.49 L-0.43,-0.55 L-0.94,-0.6 L-1.5,-0.65 L-2.11,-0.71 L-2.76,-0.76 L-3.47,-0.82 L-4.22,-0.87 L-5.02,-0.93 L-5.88,-0.98 L-6.77,-1.04 L-7.72,-1.09 L-8.72,-1.15 L-9.76,-1.2 L-10.86,-1.26 L-12,-1.31 L-12,1.68 L-10.86,1.61 L-9.76,1.54 L-8.72,1.47 L-7.72,1.4 L-6.77,1.33 L-5.88,1.26 L-5.02,1.19 L-4.22,1.12 L-3.47,1.05 L-2.76,0.98 L-2.11,0.91 L-1.5,0.84 L-0.94,0.77 L-0.43,0.7 L0.03,0.63 L0.44,0.56 L0.81,0.49 L1.12,0.42 L1.39,0.35 L1.61,0.28 L1.78,0.21 L1.9,0.14 L1.98,0.07 L2,0Z" fill="url(#gAP1)" opacity="0.4" filter="url(#b2)"/><ellipse transform="rotate(-15)" cx="-1.5" cy="0" rx="2.4" ry="1.1" fill="#fff" fill-opacity="0.7" filter="url(#b1)"/></g>
  
  <rect x="913.8" y="82.8" width="6" height="1.3" fill="#0c0c0c" filter="url(#b1)" opacity="0.9"/>
  <ellipse cx="977.5" cy="22.5" rx="2.6" ry="1.4" transform="rotate(-35 977.5 22.5)" fill="#fff" fill-opacity="0.32" filter="url(#b1)"/>
  <!-- small trail knots -->
  <g fill="#fff" filter="url(#b1)">
    <ellipse cx="645.5" cy="308" rx="2.2" ry="1.1" transform="rotate(-40 645.5 308)" fill-opacity="0.3"/>
    <ellipse cx="634.5" cy="317" rx="2.2" ry="1.1" transform="rotate(-40 634.5 317)" fill-opacity="0.3"/>
    <ellipse cx="627" cy="326.5" rx="2" ry="1.1" transform="rotate(-40 627 326.5)" fill-opacity="0.4"/>
  </g>
  <g filter="url(#b05)" opacity="0.8"><circle cx="820.4" cy="215" r="1" fill="#fff" fill-opacity="0.8"/><circle cx="795" cy="189" r="0.6" fill="#fff" fill-opacity="0.4"/><circle cx="649.5" cy="213" r="1.3" fill="#fff" fill-opacity="1"/><circle cx="622.5" cy="222" r="1.3" fill="#fff" fill-opacity="0.95"/><circle cx="794.5" cy="224" r="1.2" fill="#fff" fill-opacity="0.9"/><circle cx="745.5" cy="235.5" r="0.7" fill="#fff" fill-opacity="0.6"/><circle cx="758.75" cy="247" r="0.7" fill="#fff" fill-opacity="0.6"/><circle cx="673.75" cy="257.5" r="0.7" fill="#fff" fill-opacity="0.7"/><circle cx="660" cy="286" r="0.8" fill="#fff" fill-opacity="0.75"/><circle cx="633.75" cy="295" r="0.7" fill="#fff" fill-opacity="0.6"/><circle cx="673.75" cy="326" r="0.8" fill="#fff" fill-opacity="0.75"/><circle cx="610" cy="275" r="0.6" fill="#fff" fill-opacity="0.45"/><circle cx="880.5" cy="60.5" r="0.7" fill="#fff" fill-opacity="0.6"/><circle cx="906" cy="53" r="0.8" fill="#fff" fill-opacity="0.7"/><circle cx="850" cy="58" r="0.6" fill="#fff" fill-opacity="0.5"/><circle cx="930" cy="22" r="0.6" fill="#fff" fill-opacity="0.5"/><circle cx="975" cy="112" r="0.6" fill="#fff" fill-opacity="0.55"/><circle cx="1000" cy="111" r="0.6" fill="#fff" fill-opacity="0.55"/><circle cx="825" cy="154.5" r="0.8" fill="#fff" fill-opacity="0.6"/><circle cx="817" cy="162" r="0.9" fill="#fff" fill-opacity="0.6"/><circle cx="796" cy="171" r="0.6" fill="#fff" fill-opacity="0.45"/><circle cx="835.5" cy="180" r="0.6" fill="#fff" fill-opacity="0.45"/><circle cx="853" cy="154" r="0.6" fill="#fff" fill-opacity="0.45"/><circle cx="809.5" cy="189" r="0.6" fill="#fff" fill-opacity="0.45"/><circle cx="595" cy="265" r="0.6" fill="#fff" fill-opacity="0.4"/><circle cx="604" cy="219" r="0.6" fill="#fff" fill-opacity="0.4"/><circle cx="754" cy="165" r="0.6" fill="#fff" fill-opacity="0.4"/><circle cx="645" cy="268" r="0.6" fill="#fff" fill-opacity="0.4"/></g>
</g>
<polygon points="812.5,14 1003.8,14 1003.8,121 882.3,121 882.3,228 767.2,228 767.2,333.8 575.5,333.8 575.5,203.6 691,203.6 691,98.4 812.5,98.4" fill="none" stroke="#8e8e8e" stroke-width="1"/>
<text class="lb" x="563.6" y="31.2" font-size="18" fill="#2f9a68" stroke="#2f9a68" stroke-width="0.3" textLength="18.8" lengthAdjust="spacingAndGlyphs">(c)</text>
<g class="lb" font-size="14.3" fill="#39479b">
  <text x="987.4" y="40.8" textLength="17.4" lengthAdjust="spacingAndGlyphs">AS</text>
  <text x="957.2" y="68">AP</text>
  <text x="921.3" y="104.8">C</text>
  <text x="769.3" y="223.8">B</text>
  <text x="726.6" y="267.5">G</text>
  <text x="709.3" y="282">R</text>
  <text x="694.4" y="295.8">H</text>
</g>
<g class="lb" font-weight="bold" fill="#e9e9e9">
  <text x="575" y="350.8" font-size="10.9" textLength="216.5" lengthAdjust="spacingAndGlyphs">Comet 73P/Schwassmann-Wachmann 3</text>
  <text x="575" y="363.7" font-size="7.5" textLength="185" lengthAdjust="spacingAndGlyphs">NASA / JPL-Caltech / W. Reach (SSC/Caltech)</text>
  <text x="1004" y="350.5" font-size="10.9" text-anchor="end" textLength="166" lengthAdjust="spacingAndGlyphs">Spitzer Space Telescope • MIPS</text>
  <text x="1004" y="363.9" font-size="7.5" text-anchor="end" textLength="53" lengthAdjust="spacingAndGlyphs">ssc2006-13a</text>
</g>
</svg>
</body>
</html>
